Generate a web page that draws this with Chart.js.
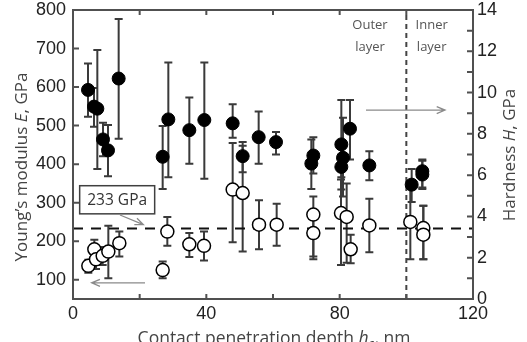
<!DOCTYPE html>
<html>
<head>
<meta charset="utf-8">
<script src="https://cdn.jsdelivr.net/npm/chart.js@4.4.0/dist/chart.umd.min.js"></script>
<style>
  html, body { margin: 0; padding: 0; background: #fff; }
</style>
</head>
<body>
<canvas id="graph" width="527" height="342"></canvas>
<script>
// hardness H (filled circles, right axis)
const depthH    = [4.5, 6.3, 7.3, 9.0, 10.5, 13.7, 26.9, 28.6, 34.9, 39.4, 47.9, 50.9, 55.7, 60.9, 71.5, 72.1, 80.5, 80.5, 81.0, 83.1, 88.9, 101.6, 104.8, 104.8];
const hardness  = [10.13, 9.32, 9.22, 7.73, 7.2, 10.68, 6.89, 8.70, 8.18, 8.67, 8.51, 6.92, 7.84, 7.6, 6.56, 6.95, 7.49, 6.4, 6.84, 8.25, 6.47, 5.54, 6.03, 6.19];
const hardLow   = [8.83, 8.35, 6.3, 6.92, 5.95, 7.76, 5.33, 5.9, 6.55, 5.82, 7.81, 6.14, 6.55, 7.0, 5.33, 6.08, 5.9, 5.3, 4.96, 6.76, 5.75, 4.7, 5.33, 5.4];
const hardHigh  = [11.41, 10.22, 12.06, 8.54, 8.43, 13.56, 8.38, 11.46, 9.76, 11.46, 9.43, 7.6, 9.08, 8.09, 7.73, 7.84, 9.64, 7.4, 8.78, 9.64, 7.16, 6.3, 6.76, 6.7];

// Young's modulus E (open circles, left axis)
const depthE    = [4.6, 6.4, 6.9, 8.9, 10.6, 13.9, 26.9, 28.3, 34.9, 39.3, 47.9, 50.9, 55.8, 61.1, 72.1, 72.1, 80.4, 82.1, 83.3, 88.9, 101.2, 105.1, 105.1];
const modulus   = [136, 179, 153, 162, 173, 195, 125, 225, 192, 188, 334, 325, 243, 243, 269, 221, 273, 263, 179, 241, 250, 234, 217];
const modLow    = [118, 152, 128, 138, 104, 160, 104, 188, 159, 150, 197, 173, 179, 188, 160, 153, 138, 144, 143, 171, 153, 153, 153];
const modHigh   = [152, 204, 175, 185, 240, 225, 147, 263, 221, 225, 455, 448, 306, 297, 316, 262, 360, 350, 217, 310, 345, 292, 292];

const modRef = 233;        // GPa, dashed reference
const layerBoundary = 100; // nm, outer/inner layer
const xTicks = [0, 40, 80, 120];

const tickFont = { family: 'Liberation Sans', size: 18, lineHeight: 1 };
const titleFamily = 'Open Sans';

function drawErrors(ctx, sx, sy, xs, lo, hi) {
    ctx.save();
    ctx.strokeStyle = '#3a3a3a';
    ctx.lineWidth = 2;
    xs.forEach((v, i) => {
        const px = sx.getPixelForValue(v);
        const y1 = sy.getPixelForValue(lo[i]);
        const y2 = sy.getPixelForValue(hi[i]);
        ctx.beginPath();
        ctx.moveTo(px, y1); ctx.lineTo(px, y2);
        ctx.moveTo(px - 4, y1); ctx.lineTo(px + 4, y1);
        ctx.moveTo(px - 4, y2); ctx.lineTo(px + 4, y2);
        ctx.stroke();
    });
    ctx.restore();
}

function arrow(ctx, x1, y1, x2, y2) {
    const ang = Math.atan2(y2 - y1, x2 - x1);
    ctx.beginPath();
    ctx.moveTo(x1, y1); ctx.lineTo(x2, y2);
    ctx.moveTo(x2 - 9 * Math.cos(ang - 0.4), y2 - 9 * Math.sin(ang - 0.4));
    ctx.lineTo(x2, y2);
    ctx.lineTo(x2 - 9 * Math.cos(ang + 0.4), y2 - 9 * Math.sin(ang + 0.4));
    ctx.stroke();
}

// draws text pieces one after another: [text, italic, subscript]
function richText(ctx, parts, x, y, size, align) {
    const fontOf = p => (p[1] ? 'italic ' : '') + (p[2] ? size * 0.7 : size) + 'px ' + titleFamily;
    let total = 0;
    parts.forEach(p => { ctx.font = fontOf(p); total += ctx.measureText(p[0]).width; });
    let cx = align === 'center' ? x - total / 2 : x;
    ctx.textAlign = 'left';
    parts.forEach(p => {
        ctx.font = fontOf(p);
        ctx.fillText(p[0], cx, p[2] ? y + size * 0.25 : y);
        cx += ctx.measureText(p[0]).width;
    });
}

const decor = {
    id: 'decor',
    beforeDatasetsDraw(chart) {
        const ctx = chart.ctx, s = chart.scales;
        drawErrors(ctx, s.x, s.yH, depthH, hardLow, hardHigh);
        drawErrors(ctx, s.x, s.yE, depthE, modLow, modHigh);
    },
    afterDraw(chart) {
        const ctx = chart.ctx, s = chart.scales, a = chart.chartArea;
        ctx.save();
        // frame
        ctx.strokeStyle = '#505050';
        ctx.lineWidth = 2;
        ctx.strokeRect(a.left, a.top, a.right - a.left, a.bottom - a.top);
        // inward ticks
        ctx.beginPath();
        s.x.ticks.forEach(t => {
            const p = s.x.getPixelForValue(t.value);
            ctx.moveTo(p, a.bottom); ctx.lineTo(p, a.bottom - 5);
            ctx.moveTo(p, a.top); ctx.lineTo(p, a.top + 5);
        });
        s.yE.ticks.forEach(t => {
            const p = s.yE.getPixelForValue(t.value);
            ctx.moveTo(a.left, p); ctx.lineTo(a.left + 6, p);
        });
        s.yH.ticks.forEach(t => {
            const p = s.yH.getPixelForValue(t.value);
            ctx.moveTo(a.right, p); ctx.lineTo(a.right - 6, p);
        });
        ctx.stroke();

        // 233 GPa label box
        const bx1 = s.x.getPixelForValue(2), bx2 = s.x.getPixelForValue(24.5);
        const by1 = s.yE.getPixelForValue(344), by2 = s.yE.getPixelForValue(271);
        ctx.fillStyle = '#fff';
        ctx.fillRect(bx1, by1, bx2 - bx1, by2 - by1);
        ctx.strokeStyle = '#404040';
        ctx.lineWidth = 1.5;
        ctx.strokeRect(bx1, by1, bx2 - bx1, by2 - by1);
        ctx.fillStyle = '#333';
        ctx.textBaseline = 'middle';
        ctx.textAlign = 'center';
        ctx.font = '15.5px ' + titleFamily;
        ctx.fillText('233 GPa', (bx1 + bx2) / 2, (by1 + by2) / 2 + 1);

        // arrows
        ctx.strokeStyle = '#8a8a8a';
        ctx.lineWidth = 1.3;
        arrow(ctx, s.x.getPixelForValue(14.1), s.yE.getPixelForValue(268), s.x.getPixelForValue(21.1), s.yE.getPixelForValue(243));
        arrow(ctx, s.x.getPixelForValue(21.6), s.yE.getPixelForValue(92), s.x.getPixelForValue(5.6), s.yE.getPixelForValue(92));
        arrow(ctx, s.x.getPixelForValue(87.9), s.yH.getPixelForValue(9.15), s.x.getPixelForValue(111.6), s.yH.getPixelForValue(9.15));

        // layer labels
        ctx.fillStyle = '#555';
        ctx.font = '13px ' + titleFamily;
        ctx.textAlign = 'center';
        const ox = s.x.getPixelForValue(89.1), ix = s.x.getPixelForValue(107.6);
        const l1 = s.yH.getPixelForValue(13.26), l2 = s.yH.getPixelForValue(12.2);
        ctx.fillText('Outer', ox, l1); ctx.fillText('layer', ox, l2);
        ctx.fillText('Inner', ix, l1); ctx.fillText('layer', ix, l2);

        // axis titles
        ctx.fillStyle = '#444';
        ctx.textBaseline = 'middle';
        ctx.save();
        ctx.translate(22, 167);
        ctx.rotate(-Math.PI / 2);
        richText(ctx, [["Young\u2019s modulus "], ['E', true], [', GPa']], 0, 0, 17, 'center');
        ctx.restore();
        ctx.save();
        ctx.translate(510, 155);
        ctx.rotate(-Math.PI / 2);
        richText(ctx, [['Hardness '], ['H', true], [', GPa']], 0, 0, 17, 'center');
        ctx.restore();
        ctx.textBaseline = 'alphabetic';
        richText(ctx, [['Contact penetration depth '], ['h', true], ['c', false, true], [', nm']], 274, 344, 17.5, 'center');
        ctx.restore();
    }
};

const ctx = document.getElementById('graph').getContext('2d');

new Chart(ctx, {
    type: 'scatter',
    data: {
        datasets: [
            {
                label: 'Hardness',
                data: depthH.map((v, i) => ({ x: v, y: hardness[i] })),
                yAxisID: 'yH',
                pointRadius: 6.5,
                backgroundColor: '#000',
                borderColor: '#000',
                borderWidth: 1,
                order: 1
            },
            {
                label: 'Young modulus',
                data: depthE.map((v, i) => ({ x: v, y: modulus[i] })),
                yAxisID: 'yE',
                pointRadius: 6.5,
                backgroundColor: '#fff',
                borderColor: '#000',
                borderWidth: 1.5,
                order: 1
            },
            {
                label: 'ref',
                data: [{ x: 0, y: modRef }, { x: 120, y: modRef }],
                yAxisID: 'yE',
                showLine: true,
                borderColor: '#111',
                borderWidth: 2,
                borderDash: [10, 8],
                pointRadius: 0,
                order: 3
            },
            {
                label: 'boundary',
                data: [{ x: layerBoundary, y: 0 }, { x: layerBoundary, y: 14 }],
                yAxisID: 'yH',
                showLine: true,
                borderColor: '#444',
                borderWidth: 2,
                borderDash: [5, 4],
                pointRadius: 0,
                order: 3
            }
        ]
    },
    options: {
        responsive: false,
        animation: false,
        layout: { padding: { top: 10, left: 0, right: 0, bottom: 0 } },
        plugins: { legend: { display: false }, tooltip: { enabled: false } },
        scales: {
            x: {
                type: 'linear',
                min: 0, max: 120,
                grid: { display: false, drawTicks: false },
                border: { display: false },
                ticks: {
                    stepSize: 20, autoSkip: false, maxRotation: 0, padding: 6,
                    font: tickFont, color: '#222',
                    callback: v => xTicks.includes(v) ? v : ''
                },
                afterFit: sc => { sc.height = 43; sc.paddingLeft = 0; sc.paddingRight = 0; }
            },
            yE: {
                type: 'linear',
                position: 'left',
                min: 50, max: 800,
                grid: { display: false, drawTicks: false },
                border: { display: false },
                ticks: { stepSize: 100, autoSkip: false, padding: 7, font: tickFont, color: '#222' },
                afterBuildTicks: sc => { sc.ticks = sc.ticks.filter(t => t.value >= 100); },
                afterFit: sc => { sc.width = 73; sc.paddingTop = 0; sc.paddingBottom = 0; }
            },
            yH: {
                type: 'linear',
                position: 'right',
                min: 0, max: 14,
                grid: { display: false, drawTicks: false },
                border: { display: false },
                ticks: {
                    stepSize: 1, autoSkip: false, padding: 4, font: tickFont, color: '#222',
                    callback: v => v % 2 === 0 ? v : ''
                },
                afterFit: sc => { sc.width = 54; sc.paddingTop = 0; sc.paddingBottom = 0; }
            }
        }
    },
    plugins: [decor]
});
</script>
</body>
</html>
